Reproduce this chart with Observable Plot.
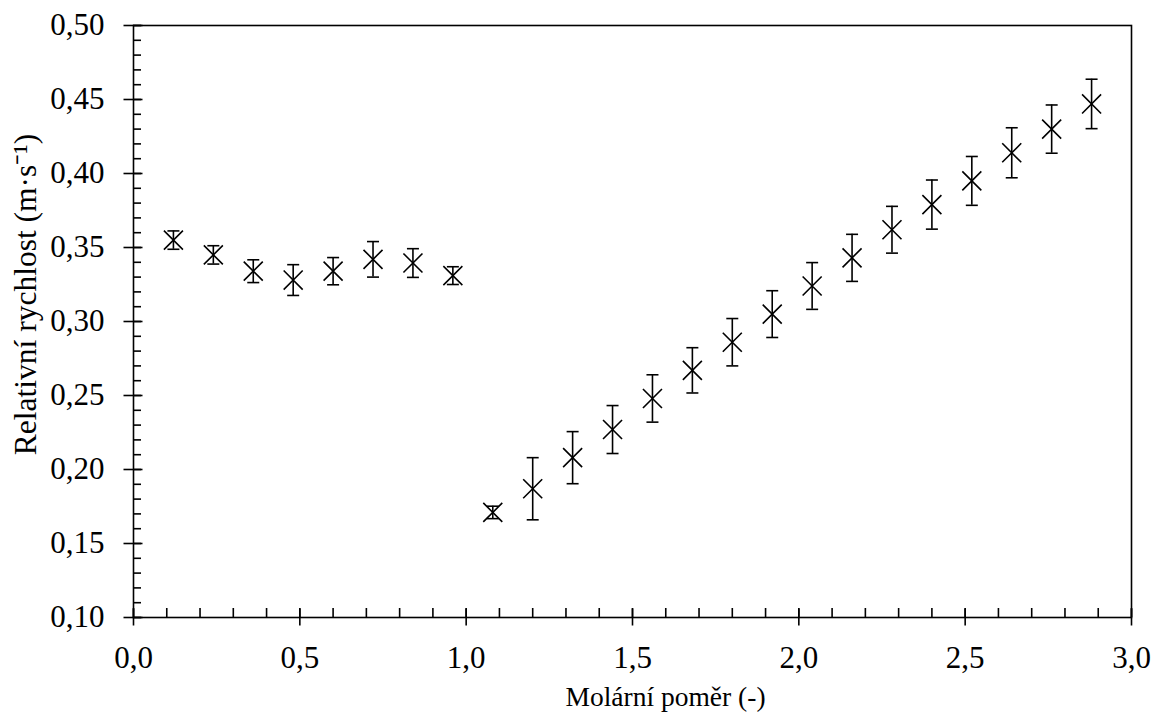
<!DOCTYPE html>
<html>
<head>
<meta charset="utf-8">
<script src="https://cdn.jsdelivr.net/npm/d3@7"></script>
<script src="https://cdn.jsdelivr.net/npm/@observablehq/plot@0.6"></script>
<style>
  html, body { margin: 0; padding: 0; background: #fff; }
  #chart svg, #chart svg text { font-family: "Liberation Serif", "Times New Roman", serif !important; }
</style>
</head>
<body>
<div id="chart"></div>
<script>
const molar = [0.12,0.24,0.36,0.48,0.60,0.72,0.84,0.96,1.08,1.20,1.32,1.44,1.56,1.68,1.80,1.92,2.04,2.16,2.28,2.40,2.52,2.64,2.76,2.88];
const speed = [0.355,0.345,0.334,0.328,0.334,0.342,0.3395,0.331,0.171,0.187,0.208,0.227,0.248,0.267,0.286,0.305,0.324,0.343,0.362,0.379,0.395,0.414,0.430,0.447];
const errs  = [0.0062,0.0062,0.0077,0.0104,0.0092,0.012,0.0097,0.006,0.0042,0.021,0.0176,0.0162,0.016,0.0153,0.016,0.0158,0.0158,0.0159,0.0158,0.0166,0.0165,0.0169,0.0163,0.0167];

const xMajor = [0, 0.5, 1.0, 1.5, 2.0, 2.5, 3.0];
const xMinor = [0,0.1,0.2,0.3,0.4,0.5,0.6,0.7,0.8,0.9,1.0,1.1,1.2,1.3,1.4,1.5,1.6,1.7,1.8,1.9,2.0,2.1,2.2,2.3,2.4,2.5,2.6,2.7,2.8,2.9,3.0];
const yMajor = [0.10, 0.15, 0.20, 0.25, 0.30, 0.35, 0.40, 0.45, 0.50];
const yMinor = d3.range(10, 51).map(v => v / 100);

const xTitle = "Molární poměr (-)";
const yTitle = "Relativní rychlost (m·s⁻¹)";

const data = molar.map((x, i) => ({x, y: speed[i], e: errs[i]}));

const FONT = "'Liberation Serif', 'Times New Roman', serif";
const comma = f => v => d3.format(f)(v).replace(".", ",");
const capSymbol = { draw(ctx) { ctx.moveTo(-6, 0); ctx.lineTo(6, 0); } };

const chart = Plot.plot({
  width: 1153,
  height: 714,
  marginLeft: 133,
  marginRight: 22,
  marginTop: 25,
  marginBottom: 97,
  style: { fontFamily: FONT, fontSize: "31px", background: "#fff", color: "#000" },
  x: { domain: [0, 3] },
  y: { domain: [0.1, 0.5] },
  marks: [
    Plot.frame({ stroke: "#000", strokeWidth: 1.6 }),
    // minor ticks (inward)
    Plot.axisX({ ticks: xMinor, tickSize: 9, dy: -9, tickFormat: () => "", label: null, strokeWidth: 1.6 }),
    Plot.axisY({ ticks: yMinor, tickSize: 8, dx: 8, tickFormat: () => "", label: null, strokeWidth: 1.6 }),
    // major ticks (crossing)
    Plot.axisX({ ticks: xMajor, tickSize: 17, dy: -8.5, tickFormat: () => "", label: null, strokeWidth: 1.6 }),
    Plot.axisY({ ticks: yMajor, tickSize: 19, dx: 9.5, tickFormat: () => "", label: null, strokeWidth: 1.6 }),
    // tick labels
    Plot.axisX({ ticks: xMajor, tickSize: 0, tickPadding: 28, tickFormat: comma(".1f"), label: null, fontSize: 31, fontFamily: FONT }),
    Plot.axisY({ ticks: yMajor, tickSize: 0, tickPadding: 29, tickFormat: comma(".2f"), label: null, fontSize: 31, fontFamily: FONT }),
    // titles
    Plot.text([xTitle], { text: d => d, frameAnchor: "bottom", dy: 80, dx: 33, fontSize: 27.5, fontFamily: FONT, textAnchor: "middle", lineAnchor: "middle" }),
    Plot.text([yTitle], { text: d => d, frameAnchor: "left", dx: -108, dy: -27, rotate: -90, fontSize: 31.5, fontFamily: FONT, textAnchor: "middle", lineAnchor: "middle" }),
    // error bars
    Plot.ruleX(data, { x: "x", y1: d => d.y - d.e, y2: d => d.y + d.e, stroke: "#000", strokeWidth: 1.6 }),
    Plot.dot(data, { x: "x", y: d => d.y - d.e, symbol: capSymbol, stroke: "#000", strokeWidth: 1.6, fill: "none" }),
    Plot.dot(data, { x: "x", y: d => d.y + d.e, symbol: capSymbol, stroke: "#000", strokeWidth: 1.6, fill: "none" }),
    // markers
    Plot.dot(data, { x: "x", y: "y", symbol: "times", r: 8.7, stroke: "#000", strokeWidth: 1.6 })
  ]
});
document.getElementById("chart").appendChild(chart);
</script>
</body>
</html>
